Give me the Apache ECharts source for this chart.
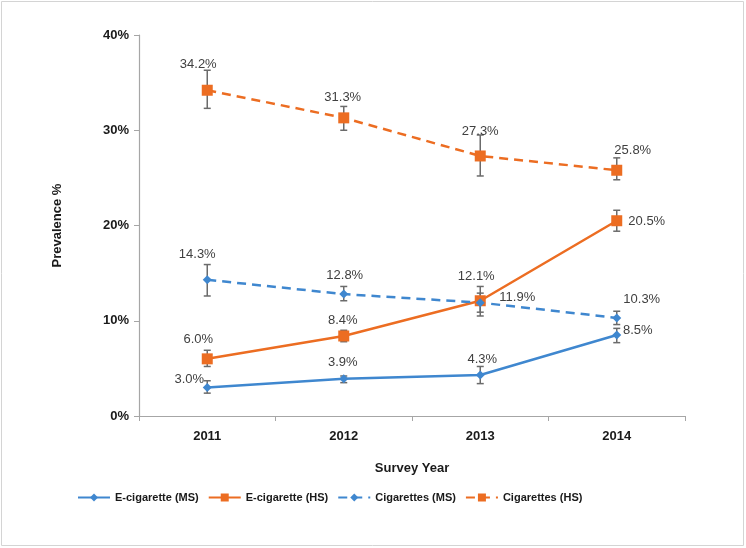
<!DOCTYPE html>
<html><head><meta charset="utf-8">
<script src="https://cdn.jsdelivr.net/npm/echarts@6/dist/echarts.min.js"></script>
<style>html,body{margin:0;padding:0;background:#fff}#c{width:746px;height:548px}</style>
</head><body><div id="c"></div>
<script>
const years = ['2011', '2012', '2013', '2014'];
const yTicks = [0, 10, 20, 30, 40];
const seriesNames = ['E-cigarette (MS)', 'E-cigarette (HS)', 'Cigarettes (MS)', 'Cigarettes (HS)'];
const ecigMS = [3.0, 3.9, 4.3, 8.5];
const ecigHS = [6.0, 8.4, 12.1, 20.5];
const cigMS = [14.3, 12.8, 11.9, 10.3];
const cigHS = [34.2, 31.3, 27.3, 25.8];
const ecigMSLow = [2.4, 3.5, 3.4, 7.7];
const ecigMSHigh = [3.7, 4.2, 5.2, 9.2];
const ecigHSLow = [5.2, 7.8, 10.5, 19.4];
const ecigHSHigh = [6.9, 9.0, 13.6, 21.6];
const cigMSLow = [12.6, 12.1, 10.9, 9.6];
const cigMSHigh = [15.9, 13.6, 12.9, 11.0];
const cigHSLow = [32.3, 30.0, 25.2, 24.8];
const cigHSHigh = [36.3, 32.5, 29.5, 27.1];

// label layout (pixel offsets of label centre from the point)
const offEcigMS = [[-18,-8],[-1,-16],[2,-16],[21,-5]];
const offEcigHS = [[-9,-19],[-1,-16],[-4,-24],[30,1]];
const offCigMS = [[-10,-25],[1,-19],[37,-5],[25,-18]];
const offCigHS = [[-9,-26],[-1,-20],[0,-25],[16,-20]];

const BLUE = '#3f87cf', ORANGE = '#ec6d22';
const labelFont = {fontFamily: '"Liberation Sans", Arial, sans-serif', fontSize: 13, color: '#404040'};

function lineSeries(name, vals, offs, color, symbol, size, dashed) {
  return {
    name, type: 'line', data: vals.map((v, i) => ({
      value: v,
      label: {show: true, position: 'inside', offset: offs[i], formatter: p => p.value.toFixed(1) + '%', ...labelFont}
    })),
    symbol, symbolSize: size, z: 3,
    itemStyle: {color},
    lineStyle: {color, width: 2.5, type: dashed ? [9, 6] : 'solid'},
    emphasis: {disabled: true}
  };
}
function errSeries(low, high) {
  return {
    type: 'custom', z: 2, silent: true,
    data: low.map((l, i) => [i, l, high[i]]),
    renderItem: function (params, api) {
      const a = api.coord([api.value(0), api.value(1)]);
      const b = api.coord([api.value(0), api.value(2)]);
      const w = 3.5;
      const st = {stroke: '#6b6b6b', lineWidth: 1.5};
      return {type: 'group', children: [
        {type: 'line', shape: {x1: a[0], y1: a[1], x2: b[0], y2: b[1]}, style: st},
        {type: 'line', shape: {x1: a[0]-w, y1: a[1], x2: a[0]+w, y2: a[1]}, style: st},
        {type: 'line', shape: {x1: b[0]-w, y1: b[1], x2: b[0]+w, y2: b[1]}, style: st}
      ]};
    }
  };
}

const chart = echarts.init(document.getElementById('c'), null, {renderer: 'canvas'});
const axisFont = {fontFamily: '"Liberation Sans", Arial, sans-serif', fontWeight: 'bold', fontSize: 13, color: '#1a1a1a'};
chart.setOption({
  animation: false,
  backgroundColor: '#fff',
  graphic: [{type: 'rect', shape: {x: 1.5, y: 1.5, width: 742, height: 544}, style: {fill: 'none', stroke: '#d4d4d4', lineWidth: 1}, silent: true}],
  grid: {left: 139, right: 61, top: 35, bottom: 132},
  legend: {
    data: seriesNames, left: 72, top: 487, itemWidth: 32, itemHeight: 10, itemGap: 9,
    textStyle: {fontFamily: '"Liberation Sans", Arial, sans-serif', fontWeight: 'bold', fontSize: 11, color: '#1a1a1a'}
  },
  xAxis: {
    type: 'category', data: years, boundaryGap: true,
    name: 'Survey Year', nameLocation: 'middle', nameGap: 46, nameTextStyle: axisFont,
    axisLine: {lineStyle: {color: '#a6a6a6', width: 1.2}},
    axisTick: {show: true, length: 5, lineStyle: {color: '#a6a6a6'}},
    axisLabel: {...axisFont, margin: 14},
    splitLine: {show: false}
  },
  yAxis: {
    type: 'value', min: yTicks[0], max: yTicks[yTicks.length - 1], interval: 10,
    name: 'Prevalence %', nameLocation: 'middle', nameGap: 75, nameRotate: 90, nameTextStyle: axisFont,
    axisLine: {show: true, lineStyle: {color: '#a6a6a6', width: 1.2}},
    axisTick: {show: true, length: 5, lineStyle: {color: '#a6a6a6'}},
    axisLabel: {...axisFont, margin: 10, formatter: '{value}%'},
    splitLine: {show: false}
  },
  series: [
    errSeries(ecigMSLow, ecigMSHigh),
    errSeries(ecigHSLow, ecigHSHigh),
    errSeries(cigMSLow, cigMSHigh),
    errSeries(cigHSLow, cigHSHigh),
    lineSeries(seriesNames[0], ecigMS, offEcigMS, BLUE, 'diamond', 9, false),
    lineSeries(seriesNames[1], ecigHS, offEcigHS, ORANGE, 'rect', 11, false),
    lineSeries(seriesNames[2], cigMS, offCigMS, BLUE, 'diamond', 9, true),
    lineSeries(seriesNames[3], cigHS, offCigHS, ORANGE, 'rect', 11, true)
  ]
});
</script></body></html>
